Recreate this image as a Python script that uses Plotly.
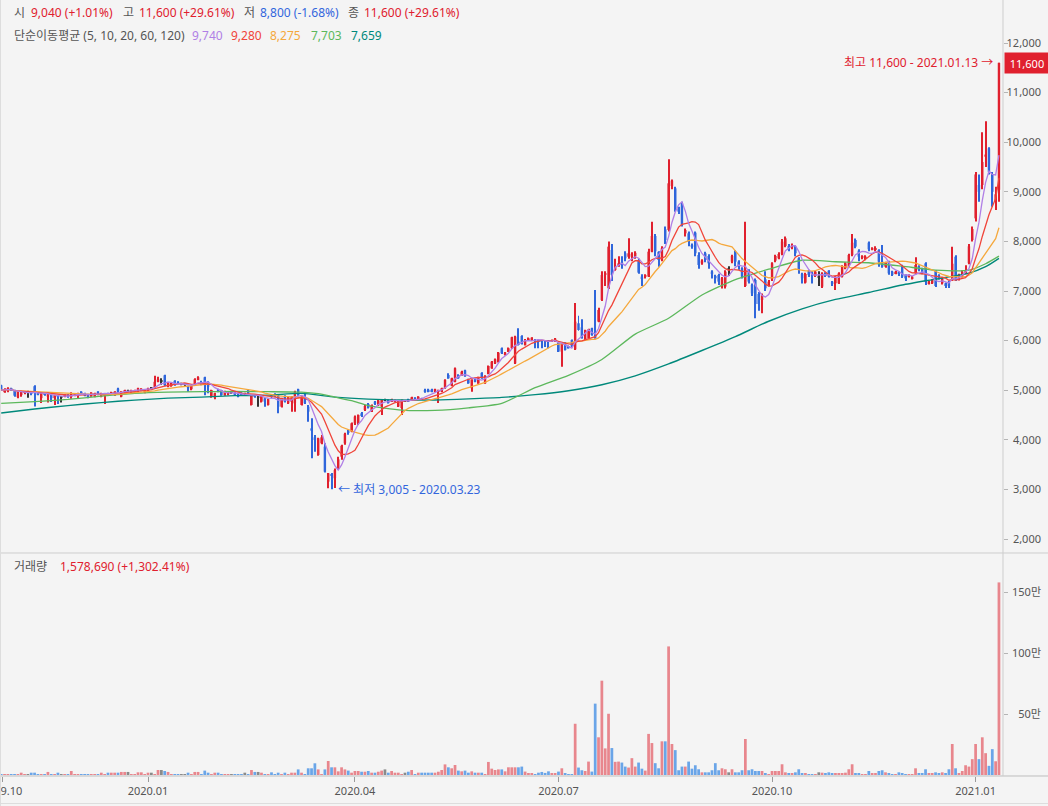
import plotly.graph_objects as go
import pandas as pd

# ---------------- data ----------------
open_ = [
    5100,4960,4980,5040,5000,4860,4900,4950,4960,4960,
    5080,4940,4840,4940,4870,4900,4840,4880,4860,4880,
    4910,4870,4900,4880,4970,4940,4920,4880,4870,4970,
    4870,4900,4940,4920,4900,5030,4870,4950,4990,4940,
    4960,4970,4990,4950,4970,5040,5060,5170,5190,5300,
    5070,5085,5190,5170,5125,5125,5085,5020,5125,5220,
    5150,5260,5170,4870,4856,5018,5004,4903,4917,4957,
    4950,4937,4950,4924,5004,4702,4903,4870,4769,4836,
    4702,4903,4924,4903,4668,4883,4735,4769,4735,5018,
    4702,4836,4668,4231,4050,3694,3929,3862,3156,3311,
    3224,3425,3660,3930,4180,4165,4333,4333,4534,4600,
    4722,4570,4770,4690,4670,4803,4803,4770,4770,4670,
    4640,4790,4820,4790,4850,4820,4830,5005,5010,5010,
    4970,4970,4970,5040,5307,5090,5170,5307,5300,5400,
    5220,5040,5240,5139,5350,5139,5330,5440,5540,5576,
    5845,5710,5778,5845,5542,5979,6093,5912,6000,6000,
    6013,6010,6000,6000,6000,5990,5979,5950,5778,5959,
    5892,6013,5825,6349,6268,6013,6046,6248,6134,6382,
    6819,7323,7054,7827,7424,7500,7580,7760,7690,7690,
    7700,7626,7290,7300,7290,7793,8110,7790,7625,8244,
    8230,9117,9070,8667,8768,8163,8163,7928,8176,7726,
    7558,7760,7706,7390,7303,7323,7088,7088,7437,7592,
    7793,7592,7457,7101,7410,7121,7222,6940,6819,7236,
    7121,7236,7612,7659,7746,7908,7908,7881,7894,7659,
    7343,7168,7410,7370,7303,7290,7087,7370,7410,7188,
    7155,7155,7289,7457,7491,7726,8028,7813,7679,7659,
    7974,7840,7840,7827,7591,7491,7591,7390,7356,7390,
    7504,7323,7289,7255,7356,7504,7457,7558,7155,7155,
    7410,7323,7155,7155,7188,7222,7692,7230,7289,7360,
    7560,8028,8465,9137,9137,9708,9876,9339,8800,9040,
]
high = [
    5110,5040,5060,5050,5010,4980,4990,4980,4990,4970,
    5100,4950,4950,4950,4950,4910,4910,4890,4880,4920,
    4920,4960,4940,4950,4980,4950,4930,4960,4950,4980,
    4950,4940,4950,4970,4980,5050,4980,5010,5010,5010,
    5010,5050,5040,5010,5050,5050,5290,5270,5240,5310,
    5160,5150,5200,5180,5150,5140,5090,5090,5240,5280,
    5190,5270,5180,5010,4950,5030,5010,4990,4980,4980,
    4960,4950,4960,4950,5020,4890,4910,4880,4880,4850,
    4830,4910,4940,4920,4850,4900,4880,4880,4990,5030,
    4880,4937,4700,4433,4097,4040,4097,3929,3330,3330,
    3420,3660,3900,4140,4200,4350,4490,4510,4560,4700,
    4740,4710,4780,4800,4810,4830,4810,4830,4810,4780,
    4810,4800,4830,4870,4860,4880,4850,5030,5030,5030,
    5030,5010,5050,5220,5340,5250,5460,5320,5390,5410,
    5230,5220,5250,5270,5360,5300,5500,5590,5640,5770,
    5860,5770,5860,6080,6100,6248,6110,6030,6060,6070,
    6030,6020,6010,6010,6010,6020,6050,5960,5940,5970,
    5900,6020,6760,6500,6430,6220,6240,6260,7021,6660,
    7400,7400,8000,7950,7650,7700,7700,7800,8062,7780,
    7800,7650,7340,7340,7850,8398,8150,7800,7900,8300,
    9655,9250,9100,8700,8800,8260,8200,7960,8200,7780,
    7640,7790,7740,7420,7330,7350,7280,7420,7500,7730,
    7820,7620,7480,8398,7440,7150,7250,6980,6950,7400,
    7220,7580,7730,7780,8050,8100,7950,7960,7920,7680,
    7370,7370,7430,7400,7410,7400,7380,7380,7420,7200,
    7300,7380,7520,7580,7750,8149,8060,7840,7720,7720,
    8000,7880,7900,7840,7927,7590,7610,7410,7410,7400,
    7530,7340,7340,7300,7679,7520,7470,7580,7200,7240,
    7420,7340,7270,7170,7200,7894,7720,7350,7420,7520,
    7950,8300,9400,9350,10200,10420,9900,9400,9100,11600,
]
low = [
    4990,4950,4960,4990,4870,4840,4870,4920,4850,4900,
    4670,4900,4740,4890,4750,4760,4700,4720,4750,4860,
    4850,4830,4880,4830,4910,4880,4840,4870,4860,4900,
    4860,4720,4900,4910,4890,4950,4860,4940,4970,4930,
    4950,4960,4980,4940,4960,5030,5050,5160,5110,5080,
    5060,5070,5090,5120,5100,5100,4970,5000,5110,5200,
    5100,4900,4940,4850,4816,4960,4890,4890,4900,4930,
    4900,4860,4890,4900,4930,4690,4850,4668,4750,4668,
    4690,4840,4860,4534,4650,4750,4720,4567,4567,4890,
    4690,4720,4366,3627,3761,3680,3910,3340,3022,3005,
    3030,3390,3600,3900,4100,4150,4300,4300,4460,4580,
    4630,4560,4700,4680,4500,4780,4730,4760,4760,4660,
    4500,4770,4760,4780,4800,4810,4800,4950,4960,4960,
    4960,4740,4960,5030,5230,5080,5160,5230,5290,5270,
    5130,4970,5160,5130,5230,5130,5320,5430,5530,5560,
    5730,5700,5770,5830,5530,5900,5920,5900,5990,5990,
    5845,5845,5845,5870,5845,5980,5970,5770,5475,5800,
    5840,5870,5810,6200,6040,6000,6040,6100,6040,6370,
    6800,7100,7040,7200,7410,7490,7450,7600,7650,7600,
    7650,7350,7100,7250,7280,7780,7700,7491,7600,7950,
    8200,9050,8600,8550,8300,8100,7900,7850,7700,7450,
    7530,7580,7450,7250,7150,7120,7050,7050,7300,7560,
    7500,7430,7250,7080,7150,6900,6450,6600,6550,7000,
    7090,7200,7580,7640,7720,7880,7800,7840,7700,7350,
    7150,7150,7280,7150,7280,7100,7060,7280,7270,7100,
    7020,7140,7270,7440,7470,7700,7860,7600,7640,7620,
    7800,7820,7800,7491,7470,7470,7330,7300,7340,7300,
    7260,7200,7270,7230,7340,7400,7340,7120,7130,7140,
    7080,7230,7130,7060,7060,7200,7200,7210,7270,7340,
    7540,8000,8400,8800,9050,9500,9350,8700,8633,8800,
]
close = [
    5000,5020,5040,5010,4890,4970,4970,4960,4960,4940,
    4950,4920,4940,4910,4940,4840,4900,4870,4860,4910,
    4860,4940,4930,4940,4920,4890,4880,4950,4940,4920,
    4940,4930,4910,4960,4970,4960,4970,5000,4990,5000,
    5000,5040,5030,5000,5040,5040,5170,5220,5190,5100,
    5150,5139,5105,5130,5125,5125,5040,5085,5220,5260,
    5125,5125,5070,5004,4937,4971,4903,4971,4971,4957,
    4917,4870,4903,4924,4937,4883,4870,4870,4870,4769,
    4816,4856,4870,4668,4836,4769,4870,4870,4971,4903,
    4870,4735,4567,4184,4010,4030,4050,3358,3324,3270,
    3392,3606,3880,4120,4150,4333,4467,4500,4480,4682,
    4650,4700,4722,4790,4803,4803,4740,4820,4800,4770,
    4803,4790,4770,4857,4810,4870,4810,4970,4980,4980,
    5020,5005,5040,5206,5240,5240,5441,5240,5374,5280,
    5139,5206,5170,5260,5240,5290,5488,5576,5623,5757,
    5744,5757,5845,6067,6080,5912,5932,6013,6046,6060,
    5990,5990,5985,5980,5975,6010,6040,5778,5932,5811,
    5845,5879,6382,6214,6046,6214,6228,6114,6046,6618,
    7323,7357,7894,7323,7505,7558,7520,7659,7760,7750,
    7770,7370,7256,7320,7793,8110,7800,7625,7861,8029,
    9171,9225,8667,8600,8331,8230,7995,7894,7760,7525,
    7612,7625,7558,7343,7256,7189,7256,7390,7437,7706,
    7592,7491,7290,7424,7189,6953,6738,6738,6920,7054,
    7189,7558,7706,7746,7995,8062,7828,7928,7760,7424,
    7256,7343,7323,7303,7390,7290,7356,7303,7289,7141,
    7289,7356,7504,7558,7726,7974,7894,7692,7706,7692,
    7840,7867,7867,7591,7491,7571,7356,7323,7390,7356,
    7289,7255,7323,7289,7524,7423,7356,7188,7188,7222,
    7100,7250,7250,7100,7100,7550,7230,7330,7380,7410,
    7900,8250,9350,9000,9600,9750,9400,9000,8950,11600,
]
volume = [
    3000,3000,3000,3000,3000,3000,19000,3000,3000,19000,
    19000,3000,3000,3000,25000,3000,3000,19000,3000,3000,
    3000,33000,3000,3000,3000,3000,3000,3000,3000,3000,
    19000,3000,19000,19000,19000,19000,25000,25000,25000,3000,
    3000,22000,22000,3000,19000,19000,3000,41000,41000,33000,
    25000,3000,3000,3000,3000,3000,19000,3000,25000,25000,
    3000,36000,19000,3000,19000,19000,3000,3000,3000,3000,
    3000,3000,3000,19000,3000,41000,25000,25000,19000,3000,
    3000,22000,3000,19000,3000,19000,3000,19000,19000,46000,
    19000,3000,55000,55000,96000,46000,3000,46000,115000,63000,
    63000,30000,63000,46000,36000,19000,33000,33000,27000,27000,
    33000,19000,19000,27000,36000,46000,19000,33000,19000,19000,
    3000,19000,27000,41000,3000,19000,19000,19000,19000,19000,
    19000,27000,41000,87000,63000,55000,82000,36000,30000,36000,
    19000,30000,19000,19000,19000,3000,107000,52000,41000,46000,
    46000,30000,63000,63000,63000,63000,69000,28000,14000,14000,
    8000,19000,25000,17000,30000,11000,11000,28000,55000,14000,
    6000,3000,420000,61000,39000,33000,110000,28000,585000,309000,
    773000,218000,502000,221000,108000,110000,102000,69000,61000,138000,
    69000,102000,52000,36000,337000,262000,97000,55000,276000,276000,
    1054000,254000,204000,39000,69000,69000,110000,52000,80000,47000,
    22000,22000,22000,39000,97000,39000,55000,47000,22000,47000,
    22000,22000,39000,295000,39000,47000,33000,33000,33000,11000,
    3000,33000,33000,33000,88000,22000,14000,11000,22000,47000,
    11000,14000,3000,6000,3000,22000,19000,14000,22000,11000,
    14000,11000,14000,19000,47000,88000,14000,14000,6000,6000,
    33000,14000,14000,33000,39000,22000,14000,6000,6000,22000,
    14000,6000,6000,6000,55000,14000,14000,47000,14000,14000,
    22000,11000,22000,14000,47000,254000,55000,14000,33000,80000,
    69000,130000,254000,130000,309000,179000,75000,212000,112570,1578690,
]

# 60- and 120-day averages (they need history before the window)
ma60_idx = [0, 10, 20, 30, 40, 50, 60, 70, 80, 90, 95, 100, 105, 110, 120, 130, 140, 150,
            160, 170, 180, 190, 200, 210, 220, 230, 240, 250, 260, 270, 280, 290, 295, 299]
ma60_val = [4735, 4770, 4815, 4880, 4935, 4960, 4970, 4975, 4970, 4960, 4930, 4860, 4790, 4690,
            4600, 4595, 4645, 4735, 5050, 5300, 5620, 6130, 6450, 6920, 7230, 7440, 7620, 7590,
            7570, 7500, 7420, 7420, 7550, 7703]
ma120_idx = [0, 10, 20, 30, 40, 50, 60, 70, 80, 90, 100, 110, 120, 130, 140, 150, 160, 170,
             180, 190, 200, 210, 220, 230, 240, 250, 260, 270, 280, 290, 295, 299]
ma120_val = [4540, 4620, 4690, 4750, 4800, 4840, 4860, 4890, 4900, 4935, 4860, 4820, 4803, 4803,
             4825, 4855, 4910, 4990, 5110, 5290, 5530, 5800, 6080, 6390, 6640, 6830, 6970, 7120,
             7240, 7360, 7490, 7659]

tick_idx = [0.24, 44, 106, 167, 231, 292]
tick_text = ["2019.10", "2020.01", "2020.04", "2020.07", "2020.10", "2021.01"]
price_ticks = list(range(2000, 12001, 1000))
vol_ticks = [500000, 1000000, 1500000]
vol_tick_text = ["50만", "100만", "150만"]

# ---------------- styling ----------------
W, H = 1048, 806
BG = "#f4f4f4"
UP, DOWN, FLAT = "#e0202e", "#2f66db", "#333333"
VUP, VDOWN, VFLAT = "#e8868d", "#6aa5e8", "#8a8a8a"
C_MA = {"5": "#b07fe6", "10": "#f0453a", "20": "#f5a83c", "60": "#5cb85c", "120": "#00897b"}
FONT = "Noto Sans, Noto Sans CJK KR, sans-serif"

n = len(close)
x = list(range(n))
s = pd.Series(close, dtype=float)
ma5 = s.rolling(5, min_periods=1).mean()
ma10 = s.rolling(10, min_periods=1).mean()
ma20 = s.rolling(20, min_periods=1).mean()

cand_col, vol_col, body_base, body_h = [], [], [], []
for o, c in zip(open_, close):
    if c > o:
        cand_col.append(UP); vol_col.append(VUP)
    elif c < o:
        cand_col.append(DOWN); vol_col.append(VDOWN)
    else:
        cand_col.append(FLAT); vol_col.append(VFLAT)
    lo, hi = min(o, c), max(o, c)
    hgt = max(hi - lo, 18)
    body_base.append((lo + hi) / 2 - hgt / 2)
    body_h.append(hgt)
wick_base = low
wick_h = [h - l for h, l in zip(high, low)]

fig = go.Figure()
# moving averages (under candles)
fig.add_trace(go.Scatter(x=ma120_idx, y=ma120_val, mode="lines",
                         line=dict(color=C_MA["120"], width=1.4, shape="spline", smoothing=0.6)))
fig.add_trace(go.Scatter(x=ma60_idx, y=ma60_val, mode="lines",
                         line=dict(color=C_MA["60"], width=1.3, shape="spline", smoothing=0.6)))
fig.add_trace(go.Scatter(x=x, y=ma20, mode="lines", line=dict(color=C_MA["20"], width=1.3)))
fig.add_trace(go.Scatter(x=x, y=ma10, mode="lines", line=dict(color=C_MA["10"], width=1.3)))
fig.add_trace(go.Scatter(x=x, y=ma5, mode="lines", line=dict(color=C_MA["5"], width=1.3)))
# candles: wicks and bodies
fig.add_trace(go.Bar(x=x, y=wick_h, base=wick_base, width=0.3,
                     marker=dict(color=cand_col, line=dict(width=0))))
fig.add_trace(go.Bar(x=x, y=body_h, base=body_base, width=0.72,
                     marker=dict(color=cand_col, line=dict(width=0))))
# volume
fig.add_trace(go.Bar(x=x, y=volume, xaxis="x2", yaxis="y2", width=0.82,
                     marker=dict(color=vol_col, line=dict(width=0))))
# invisible helpers that carry the label-only axes
fig.add_trace(go.Scatter(x=[x[-1]], y=[close[-1]], yaxis="y3", mode="markers",
                         marker=dict(opacity=0), hoverinfo="skip"))
fig.add_trace(go.Scatter(x=[x[-1]], y=[volume[-1]], xaxis="x2", yaxis="y4", mode="markers",
                         marker=dict(opacity=0), hoverinfo="skip"))

XR = 1003 / W
y_sep = (H - 553) / H
y_axis = (H - 776) / H
p_range = [12000 - (553 - 43) / 0.0496, 12000 + 43 / 0.0496]
v_range = [-(776 - 775) * 500000 / 61, (775 - 553) * 500000 / 61]
x_range = [-1.2 / 3.337, (1003 - 1.2) / 3.337]
label_pos = 1044 / W
tickfont = dict(family=FONT, size=11, color="#555555")

fig.update_layout(
    width=W, height=H, autosize=False,
    margin=dict(l=0, r=0, t=0, b=0, pad=0, autoexpand=False),
    paper_bgcolor=BG, plot_bgcolor=BG,
    showlegend=False, hovermode=False, barmode="overlay",
    font=dict(family=FONT, size=12, color="#555555"),
    xaxis=dict(domain=[0, XR], range=x_range, anchor="y", showticklabels=False,
               showgrid=False, zeroline=False, ticks="", automargin=False),
    xaxis2=dict(domain=[0, XR], range=x_range, anchor="y2", matches="x",
                tickmode="array", tickvals=tick_idx, ticktext=tick_text,
                ticks="outside", ticklen=5, tickcolor="#9a9a9a", tickfont=tickfont,
                ticklabeloverflow="allow", showgrid=False, zeroline=False, showline=False,
                automargin=False),
    yaxis=dict(domain=[y_sep, 1], range=p_range, anchor="x", side="right",
               tickmode="array", tickvals=price_ticks, showticklabels=False,
               ticks="outside", ticklen=4, tickcolor="#b5b5b5",
               showgrid=False, zeroline=False, automargin=False),
    yaxis3=dict(overlaying="y", range=p_range, anchor="free", position=label_pos, side="right",
                tickmode="array", tickvals=price_ticks,
                ticktext=[f"{v:,}" for v in price_ticks], ticklabelposition="inside",
                ticklabeloverflow="allow", ticks="", tickfont=tickfont,
                showgrid=False, zeroline=False, showline=False, automargin=False),
    yaxis2=dict(domain=[y_axis, y_sep], range=v_range, anchor="x2", side="right",
                tickmode="array", tickvals=vol_ticks, showticklabels=False,
                ticks="outside", ticklen=4, tickcolor="#b5b5b5",
                showgrid=False, zeroline=False, automargin=False),
    yaxis4=dict(overlaying="y2", range=v_range, anchor="free", position=label_pos, side="right",
                tickmode="array", tickvals=vol_ticks, ticktext=vol_tick_text,
                ticklabelposition="inside", ticklabeloverflow="allow", ticks="",
                tickfont=tickfont, showgrid=False, zeroline=False, showline=False,
                automargin=False),
)

LINE = "#cdcdcd"
fig.add_shape(type="line", xref="paper", yref="paper", x0=0, x1=1, y0=y_sep, y1=y_sep,
              line=dict(color=LINE, width=1))
fig.add_shape(type="line", xref="paper", yref="paper", x0=0, x1=1, y0=y_axis, y1=y_axis,
              line=dict(color="#bdbdbd", width=1))
fig.add_shape(type="line", xref="paper", yref="paper", x0=XR, x1=XR, y0=y_axis, y1=1,
              line=dict(color=LINE, width=1))
fig.add_shape(type="line", xref="paper", yref="paper", x0=0.0005, x1=0.0005, y0=0, y1=1,
              line=dict(color="#dddddd", width=1))
fig.add_shape(type="line", xref="paper", yref="paper", x0=0, x1=1, y0=2.5 / H, y1=2.5 / H,
              line=dict(color="#dddddd", width=1))


def text(px, py, t, color, size=12):
    fig.add_annotation(xref="paper", yref="paper", x=px / W, y=(H - py) / H, text=t,
                       showarrow=False, xanchor="left", yanchor="middle",
                       font=dict(family=FONT, size=size, color=color))


GRAY, RED, BLUE = "#555555", "#e0202e", "#3366dd"
text(12, 13, "시", GRAY)
text(29, 13, "9,040 (+1.01%)", RED)
text(121, 13, "고", GRAY)
text(137, 13, "11,600 (+29.61%)", RED)
text(242, 13, "저", GRAY)
text(258, 13, "8,800 (-1.68%)", BLUE)
text(346, 13, "종", GRAY)
text(362, 13, "11,600 (+29.61%)", RED)
text(12, 35, "단순이동평균 (5, 10, 20, 60, 120)", GRAY)
text(190, 35, "9,740", C_MA["5"])
text(229, 35, "9,280", C_MA["10"])
text(268, 35, "8,275", C_MA["20"])
text(309, 35, "7,703", C_MA["60"])
text(349, 35, "7,659", C_MA["120"])
text(12, 567, "거래량", GRAY)
text(58, 567, "1,578,690 (+1,302.41%)", RED)

# high / low markers
fig.add_annotation(x=n - 1, y=max(high), xref="x", yref="y", text="최고 11,600 - 2021.01.13 →",
                   showarrow=False, xanchor="right", yanchor="middle", xshift=-4,
                   font=dict(family=FONT, size=12, color=RED))
lo_i = low.index(min(low))
fig.add_annotation(x=lo_i, y=min(low), xref="x", yref="y", text="← 최저 3,005 - 2020.03.23",
                   showarrow=False, xanchor="left", yanchor="middle", xshift=4,
                   font=dict(family=FONT, size=12, color=BLUE))
# last price box on the axis
fig.add_annotation(x=1004 / W, y=close[-1], xref="paper", yref="y", text="11,600",
                   showarrow=False, xanchor="left", yanchor="middle", width=44, height=20,
                   bgcolor=RED, borderpad=0, font=dict(family=FONT, size=11, color="#ffffff"))

fig.write_html("out.html", include_plotlyjs=True, config={"displayModeBar": False})
